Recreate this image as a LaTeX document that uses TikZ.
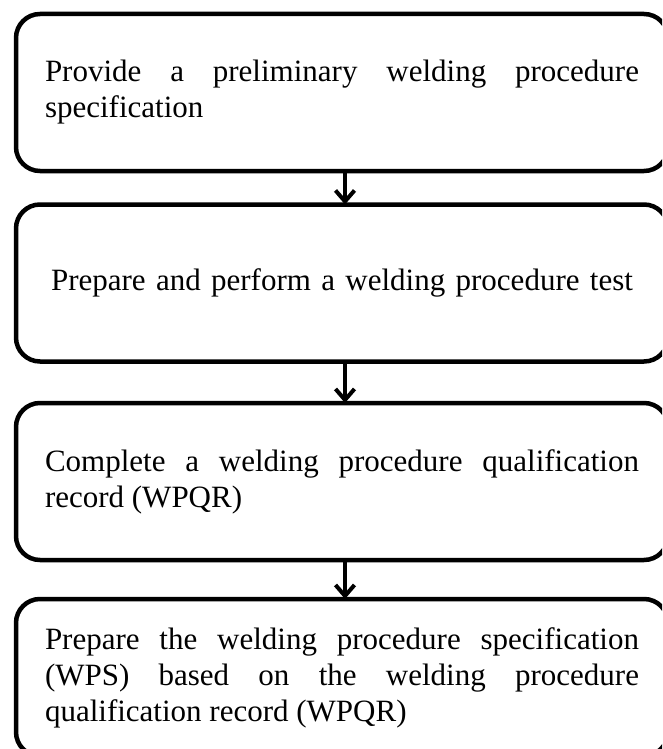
\documentclass[tikz,border=0pt]{standalone}
\usepackage{fontspec}
\setmainfont{Liberation Serif}
\usetikzlibrary{arrows.meta}
\begin{document}
\begin{tikzpicture}[x=1pt,y=-1pt,
  stepbox/.style={draw, line width=4.5pt, rounded corners=24pt,
    minimum width=652pt, minimum height=157pt, text width=594pt,
    align=justify, inner sep=0pt, outer sep=0pt,
    font={\fontsize{31pt}{36pt}\selectfont\spaceskip=7.75pt plus 100pt minus 2pt\hyphenpenalty=10000\exhyphenpenalty=10000\relax}},
  arr/.style={line width=4pt, -{Straight Barb[length=11pt,width=19pt]}}]
\useasboundingbox (0,0) rectangle (662,749);
\clip (0,0) rectangle (662,749);
\node[stepbox] (b1) at (342,92.5) {Provide a preliminary welding procedure specification};
\node[stepbox, align=center] (b2) at (342,283) {Prepare and perform a welding procedure test};
\node[stepbox] (b3) at (342,481.5) {Complete a welding procedure qualification record (WPQR)};
\node[stepbox] (b4) at (342,677.5) {Prepare the welding procedure specification (WPS) based on the welding procedure qualification record (WPQR)};
\draw[arr] ([xshift=3pt]b1.south) -- ([xshift=3pt]b2.north);
\draw[arr] ([xshift=3pt]b2.south) -- ([xshift=3pt]b3.north);
\draw[arr] ([xshift=3pt]b3.south) -- ([xshift=3pt]b4.north);
\end{tikzpicture}
\end{document}
